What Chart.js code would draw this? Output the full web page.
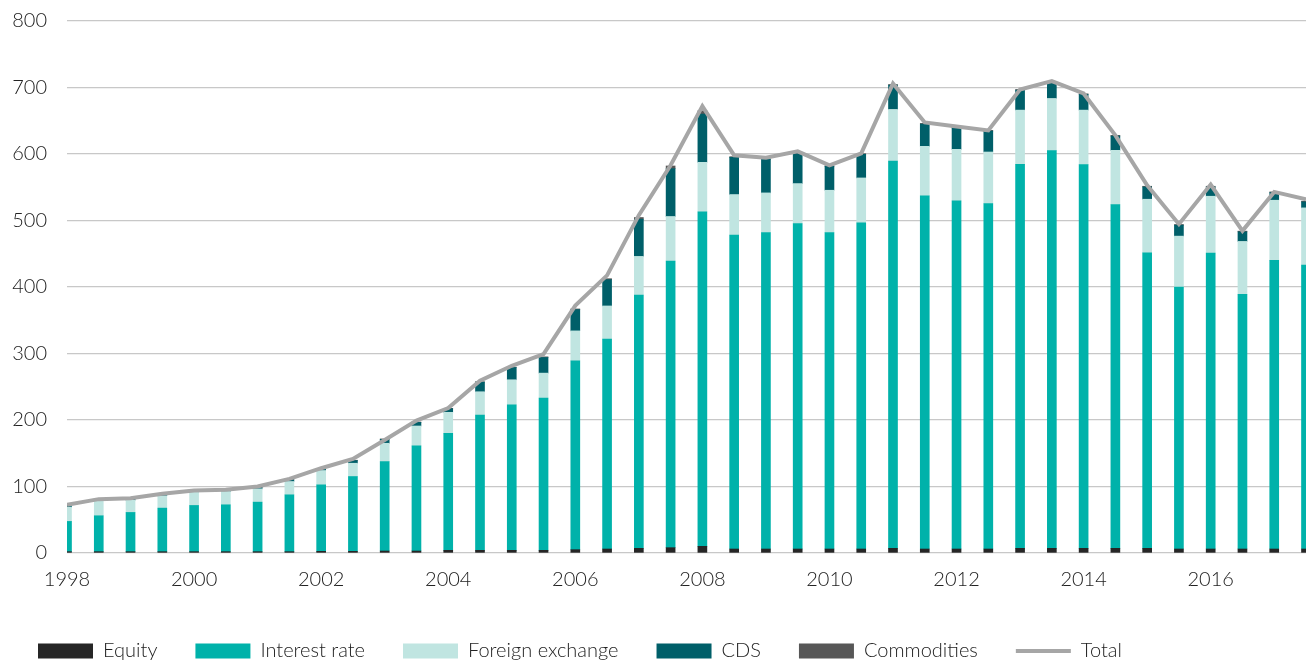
<!DOCTYPE html>
<html>
<head>
<meta charset="utf-8">
<script src="https://cdn.jsdelivr.net/npm/chart.js@4/dist/chart.umd.min.js"></script>
<style>
    html, body { margin: 0; padding: 0; background: #fff; overflow: hidden; }
    #wrap { width: 1306px; height: 661px; overflow: hidden; }
</style>
</head>
<body>
<div id="wrap"><canvas id="chart" width="1306" height="671"></canvas></div>
<script>
// Half-year periods, 1998 H1 .. 2017 H2
const periods = [
    '1998 H1', '1998 H2', '1999 H1', '1999 H2', '2000 H1', '2000 H2', '2001 H1', '2001 H2',
    '2002 H1', '2002 H2', '2003 H1', '2003 H2', '2004 H1', '2004 H2', '2005 H1', '2005 H2',
    '2006 H1', '2006 H2', '2007 H1', '2007 H2', '2008 H1', '2008 H2', '2009 H1', '2009 H2',
    '2010 H1', '2010 H2', '2011 H1', '2011 H2', '2012 H1', '2012 H2', '2013 H1', '2013 H2',
    '2014 H1', '2014 H2', '2015 H1', '2015 H2', '2016 H1', '2016 H2', '2017 H1', '2017 H2'
];
const yearTicks = ['1998', '2000', '2002', '2004', '2006', '2008', '2010', '2012', '2014', '2016'];

const equity = [2, 2, 2, 2, 2, 2, 2, 2, 2.5, 2.5, 3, 3, 4, 4, 4, 4, 5, 6, 7, 8,
    10, 6, 6, 6, 6, 6, 7, 6, 6, 6, 7, 7, 7, 7, 7, 6, 6, 6, 6, 6];
const interestRate = [45.5, 54, 59, 65.5, 69.5, 70.5, 74.5, 85.5, 100, 112.5, 134.5, 158, 176, 203.5, 219, 229, 284, 315.5, 381, 431,
    503, 472, 476, 489.5, 476, 490.5, 582.5, 531, 523.5, 519.5, 577.5, 598, 577, 517, 444.5, 394, 445, 383, 434, 427];
const foreignExchange = [21.5, 24, 18.5, 18.5, 20, 20, 20, 20, 21.5, 20, 27.5, 30, 31.5, 35, 37.5, 37.5, 45, 50, 58, 67,
    74.5, 61, 59.5, 60, 63.5, 67.5, 77.5, 74.5, 77.5, 77.5, 81.5, 78.5, 82, 81.5, 80.5, 76.5, 85.5, 79.5, 90.5, 86];
const cds = [2, 1, 1.5, 2, 1.5, 1.5, 2, 2.5, 2, 4, 6, 5.5, 5.5, 14.5, 18.5, 23.5, 32, 39.5, 56, 72,
    72.5, 56, 50.5, 45, 36, 35.5, 36.5, 33.5, 32, 31.5, 30, 22.5, 23.5, 21.5, 18.5, 16.5, 14, 14.5, 11.5, 9];
const commodities = [0.5, 0.5, 0.5, 0.5, 0.5, 0.5, 0.5, 0.5, 0.5, 0.5, 0.5, 0.5, 0.5, 0.5, 0.5, 1, 1, 1.5, 2.5, 4,
    5, 1, 1, 1, 1, 1, 1, 1, 1, 1, 1, 1, 1, 1, 1, 1, 1, 1, 1, 1];
const total = [72.5, 81, 82.5, 89, 94, 95, 100, 111.5, 127.5, 141.5, 170, 199, 218, 259, 281.5, 299, 372, 417.5, 508, 583,
    672, 598, 594.5, 604, 583, 601, 706, 647.5, 641.5, 635.5, 697, 709.5, 691, 628, 553, 494.5, 554, 484.5, 543, 532];

const FONT = { family: 'Lato, "Liberation Sans", sans-serif', size: 20, weight: '300' };

function barSet(label, data, color) {
    return {
        type: 'bar',
        label: label,
        data: data,
        backgroundColor: color,
        borderWidth: 0,
        barThickness: 9,
        stack: 'all',
        order: 1,
        clip: 0
    };
}

new Chart(document.getElementById('chart'), {
    data: {
        labels: periods,
        datasets: [
            barSet('Equity', equity, '#262626'),
            barSet('Interest rate', interestRate, '#00B2AA'),
            barSet('Foreign exchange', foreignExchange, '#C0E5E1'),
            barSet('CDS', cds, '#005F69'),
            barSet('Commodities', commodities, '#575757'),
            {
                type: 'line',
                label: 'Total',
                data: total,
                borderColor: '#A6A6A6',
                backgroundColor: '#A6A6A6',
                borderWidth: 4,
                pointRadius: 0,
                tension: 0,
                order: 0,
                clip: 0
            }
        ]
    },
    options: {
        responsive: false,
        animation: false,
        layout: {
            padding: { left: 0, top: 21, right: 0, bottom: 0 }
        },
        plugins: {
            tooltip: { enabled: false },
            legend: {
                position: 'bottom',
                align: 'start',
                labels: {
                    usePointStyle: true,
                    pointStyleWidth: 55,
                    boxHeight: 15,
                    padding: 38,
                    color: '#222',
                    font: FONT,
                    sort: (a, b) => a.datasetIndex - b.datasetIndex,
                    generateLabels(chart) {
                        const items = Chart.defaults.plugins.legend.labels.generateLabels(chart);
                        items.forEach(it => {
                            const ds = chart.data.datasets[it.datasetIndex];
                            if (ds.type === 'line') {
                                it.pointStyle = 'line';
                                it.lineWidth = 4;
                                it.strokeStyle = ds.borderColor;
                            } else {
                                it.pointStyle = 'rect';
                                it.lineWidth = 0;
                            }
                        });
                        return items;
                    }
                }
            }
        },
        scales: {
            x: {
                stacked: true,
                offset: false,
                grid: { display: false },
                border: { display: false },
                ticks: {
                    autoSkip: false,
                    maxRotation: 0,
                    padding: 7,
                    color: '#222',
                    font: FONT,
                    callback: function (value, index) {
                        const year = periods[index].slice(0, 4);
                        return periods[index].endsWith('H1') && yearTicks.includes(year) ? year : '';
                    }
                },
                afterFit: function (scale) {
                    scale.height = 50;
                    scale.paddingLeft = 0;
                    scale.paddingRight = 0;
                }
            },
            y: {
                stacked: true,
                min: 0,
                max: 800,
                grid: { color: '#C8C8C8', lineWidth: 1.3, drawTicks: false },
                border: { display: false },
                ticks: {
                    stepSize: 100,
                    padding: 20,
                    color: '#222',
                    font: FONT
                },
                afterFit: function (scale) {
                    scale.width = 67;
                    scale.paddingTop = 0;
                    scale.paddingBottom = 0;
                }
            }
        }
    }
});
</script>
</body>
</html>
